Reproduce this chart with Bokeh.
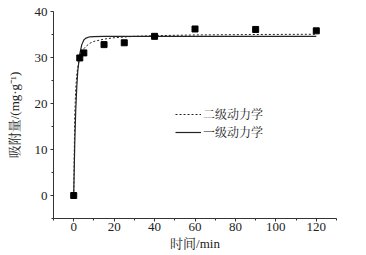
from bokeh.plotting import figure
from bokeh.models import Range1d, Legend, LegendItem, FixedTicker
from bokeh.embed import file_html
from bokeh.resources import INLINE

# measured data
t_data = [0, 3, 5, 15, 25, 40, 60, 90, 120]
q_data = [0, 29.9, 31.0, 32.8, 33.2, 34.6, 36.2, 36.1, 35.8]

# fitted curves
t_fit = [0, 0.5, 1, 1.5, 2, 3, 4, 5, 6, 8, 10, 15, 20, 30, 40, 60, 90, 120]
q_first = [0, 11.0, 18.5, 23.5, 27.0, 30.8, 32.8, 33.8, 34.2, 34.5, 34.55, 34.6, 34.6, 34.6, 34.6, 34.6, 34.6, 34.6]
q_second = [0, 17.3, 23.2, 26.2, 27.9, 30.0, 31.2, 31.9, 32.4, 33.1, 33.5, 34.0, 34.3, 34.6, 34.75, 34.9, 35.0, 35.05]

x_ticks = [0, 20, 40, 60, 80, 100, 120]
y_ticks = [0, 10, 20, 30, 40]
legend_labels = ["二级动力学", "一级动力学"]
x_label = "时间/min"
y_label = "吸附量/(mg·g⁻¹)"

FONT = "'Liberation Serif', 'Noto Serif CJK SC', 'Noto Sans CJK SC'"

p = figure(width=366, height=255, output_backend="svg", toolbar_location=None,
           x_range=Range1d(-10, 130), y_range=Range1d(-5, 40),
           min_border_left=53, min_border_right=30, min_border_top=11, min_border_bottom=37)
p.outline_line_color = None
p.grid.visible = False
p.background_fill_color = "white"
p.border_fill_color = "white"

l2 = p.line(t_fit, q_second, line_color="#222222", line_width=1, line_dash="2 2")
l1 = p.line(t_fit, q_first, line_color="#222222", line_width=1.2)
p.scatter(t_data, q_data, marker="square", size=6, color="black")

for ax in (p.xaxis[0], p.yaxis[0]):
    ax.axis_line_color = "#333333"
    ax.major_tick_line_color = "#333333"
    ax.minor_tick_line_color = "#333333"
    ax.major_tick_out = 3
    ax.major_tick_in = 0
    ax.minor_tick_out = 2
    ax.minor_tick_in = 0
    ax.major_label_text_font = FONT
    ax.major_label_text_font_size = "13px"
    ax.major_label_text_color = "#222222"
    ax.axis_label_text_font = FONT
    ax.axis_label_text_font_size = "13px"
    ax.axis_label_text_font_style = "normal"
    ax.axis_label_text_color = "#222222"

p.xaxis.ticker = FixedTicker(ticks=x_ticks, minor_ticks=[-10, 10, 30, 50, 70, 90, 110, 130])
p.yaxis.ticker = FixedTicker(ticks=y_ticks, minor_ticks=[-5, 5, 15, 25, 35])
p.xaxis.axis_label = x_label
p.yaxis.axis_label = y_label
p.xaxis.major_label_standoff = 1
p.yaxis.major_label_standoff = 3
p.xaxis.axis_label_standoff = 2
p.yaxis.axis_label_standoff = 10

legend = Legend(items=[LegendItem(label=legend_labels[0], renderers=[l2]),
                       LegendItem(label=legend_labels[1], renderers=[l1])],
                location=(122, 77))
legend.background_fill_alpha = 0
legend.border_line_color = None
legend.label_text_font = FONT
legend.label_text_font_size = "12px"
legend.label_text_color = "#222222"
legend.glyph_width = 26
legend.glyph_height = 12
legend.spacing = -12
legend.padding = 0
legend.margin = 0
legend.label_standoff = 2
legend.label_height = 12
p.add_layout(legend)

open("out.html", "w").write(file_html(p, INLINE))
